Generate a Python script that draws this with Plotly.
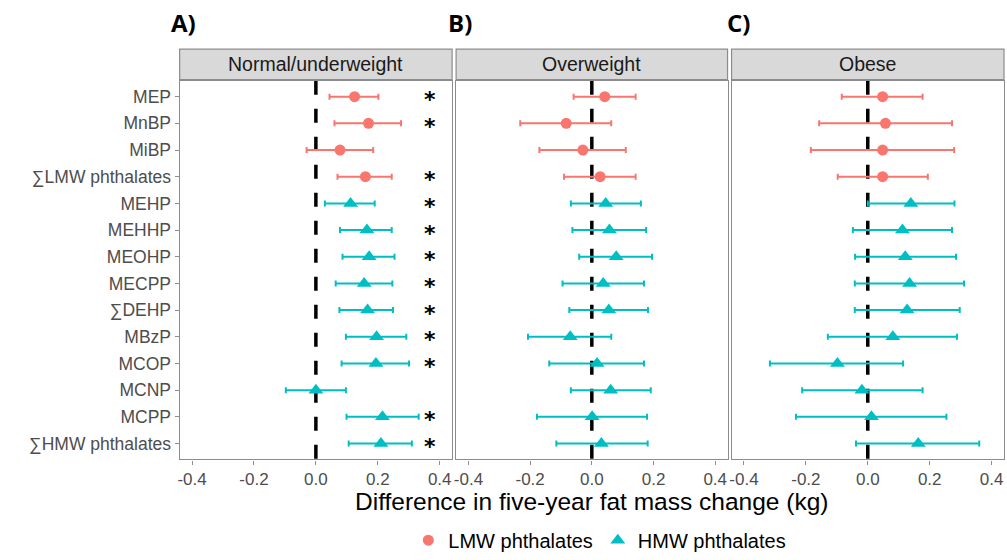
import plotly.graph_objects as go

phthalates = ["MEP", "MnBP", "MiBP", "∑LMW phthalates", "MEHP", "MEHHP", "MEOHP",
              "MECPP", "∑DEHP", "MBzP", "MCOP", "MCNP", "MCPP", "∑HMW phthalates"]
weight_group = ["LMW", "LMW", "LMW", "LMW", "HMW", "HMW", "HMW",
                "HMW", "HMW", "HMW", "HMW", "HMW", "HMW", "HMW"]
panels = ["Normal/underweight", "Overweight", "Obese"]
panel_tags = ["A)", "B)", "C)"]
x_ticks = [-0.4, -0.2, 0.0, 0.2, 0.4]

normal_est = [0.125, 0.170, 0.078, 0.160, 0.112, 0.165, 0.172, 0.156, 0.167, 0.196, 0.194, 0.000, 0.215, 0.210]
normal_lo = [0.044, 0.060, -0.030, 0.070, 0.029, 0.078, 0.086, 0.064, 0.076, 0.097, 0.083, -0.097, 0.099, 0.106]
normal_hi = [0.202, 0.275, 0.185, 0.245, 0.190, 0.245, 0.254, 0.247, 0.249, 0.292, 0.301, 0.097, 0.332, 0.310]

over_est = [0.042, -0.083, -0.029, 0.027, 0.045, 0.057, 0.079, 0.037, 0.055, -0.070, 0.017, 0.061, 0.001, 0.031]
over_lo = [-0.059, -0.232, -0.170, -0.090, -0.068, -0.063, -0.041, -0.095, -0.073, -0.207, -0.138, -0.068, -0.178, -0.115]
over_hi = [0.142, 0.063, 0.110, 0.142, 0.159, 0.176, 0.195, 0.169, 0.182, 0.063, 0.169, 0.191, 0.179, 0.181]

obese_est = [0.048, 0.057, 0.048, 0.048, 0.139, 0.112, 0.121, 0.135, 0.127, 0.081, -0.098, -0.019, 0.012, 0.163]
obese_lo = [-0.084, -0.157, -0.184, -0.097, 0.000, -0.048, -0.041, -0.042, -0.042, -0.129, -0.316, -0.212, -0.232, -0.038]
obese_hi = [0.177, 0.272, 0.279, 0.194, 0.280, 0.272, 0.285, 0.311, 0.297, 0.288, 0.114, 0.177, 0.254, 0.360]

normal_significant = [True, True, False, True, True, True, True, True, True, True, True, False, True, True]
star_x = 0.37

panel_data = [(normal_est, normal_lo, normal_hi),
              (over_est, over_lo, over_hi),
              (obese_est, obese_lo, obese_hi)]

group_style = {
    "LMW": dict(name="LMW phthalates", color="#F8766D", symbol="circle", size=11),
    "HMW": dict(name="HMW phthalates", color="#00BFC4", symbol="triangle-up", size=13),
}

W, H = 1007, 560
x_domains = [[178 / W, 451 / W], [455 / W, 727 / W], [731 / W, 1004 / W]]
tag_px = [167, 445, 724]
plot_top, plot_bottom = 82, 467
y_domain = [1 - plot_bottom / H, 1 - plot_top / H]
strip_top, strip_bottom = 50, 81

fig = go.Figure()

for p, (est, lo, hi) in enumerate(panel_data):
    xa = "x" if p == 0 else f"x{p + 1}"
    ya = "y" if p == 0 else f"y{p + 1}"
    for g, st in group_style.items():
        idx = [i for i, wg in enumerate(weight_group) if wg == g]
        fig.add_trace(go.Scatter(
            x=[est[i] for i in idx],
            y=[phthalates[i] for i in idx],
            mode="markers",
            name=st["name"],
            legendgroup=g,
            showlegend=(p == 0),
            marker=dict(color=st["color"], symbol=st["symbol"], size=st["size"]),
            error_x=dict(type="data", symmetric=False,
                         array=[hi[i] - est[i] for i in idx],
                         arrayminus=[est[i] - lo[i] for i in idx],
                         color=st["color"], thickness=2, width=3),
            xaxis=xa, yaxis=ya,
        ))
    # dashed zero line
    fig.add_shape(type="line", xref=xa, yref=f"{ya} domain", x0=0, x1=0, y0=1, y1=0,
                  line=dict(color="black", width=3.5, dash="14px,14px"), layer="below")
    # strip
    fig.add_shape(type="rect", xref="paper", yref="paper",
                  x0=x_domains[p][0], x1=x_domains[p][1],
                  y0=1 - strip_bottom / H, y1=1 - strip_top / H,
                  fillcolor="#D9D9D9", line=dict(color="#8C8C8C", width=1.2))
    fig.add_annotation(text=panels[p], xref="paper", yref="paper",
                       x=(x_domains[p][0] + x_domains[p][1]) / 2,
                       y=1 - (strip_top + strip_bottom) / 2 / H,
                       showarrow=False, font=dict(size=19.5, color="#1A1A1A"),
                       xanchor="center", yanchor="middle")
    fig.add_annotation(text=f"<b>{panel_tags[p]}</b>", xref="paper", yref="paper",
                       x=tag_px[p] / W, y=1 - 23 / H,
                       showarrow=False, font=dict(size=24, color="black", family="Open Sans"),
                       xanchor="left", yanchor="middle")

# significance stars
for i, sig in enumerate(normal_significant):
    if sig:
        fig.add_annotation(text="<b>*</b>", x=star_x, y=phthalates[i], xref="x", yref="y",
                           showarrow=False, font=dict(size=22, color="black", family="DejaVu Sans"),
                           yshift=-3)

axis_common = dict(range=[-0.44, 0.44], tickvals=x_ticks,
                   ticktext=[f"{v:.1f}" for v in x_ticks],
                   showgrid=False, zeroline=False, showline=True, mirror=True,
                   linecolor="#8C8C8C", linewidth=1.2, ticks="outside", ticklen=4,
                   tickcolor="#8C8C8C", tickfont=dict(size=17, color="#4D4D4D"))

layout_axes = {}
for p in range(3):
    k = "" if p == 0 else str(p + 1)
    layout_axes[f"xaxis{k}"] = dict(axis_common, domain=x_domains[p], anchor=f"y{k}")
    layout_axes[f"yaxis{k}"] = dict(
        domain=y_domain, anchor=f"x{k}", type="category",
        categoryorder="array", categoryarray=phthalates,
        range=[13.6, -0.6], showgrid=False, zeroline=False,
        showline=True, mirror=True, linecolor="#8C8C8C", linewidth=1.2,
        showticklabels=(p == 0), ticks="outside" if p == 0 else "",
        ticklen=4, tickcolor="#8C8C8C",
        tickfont=dict(size=17.5, color="#4D4D4D"))

fig.update_layout(**layout_axes)

fig.add_annotation(text="Difference in five-year fat mass change (kg)", xref="paper", yref="paper",
                   x=591 / W, y=1 - 510 / H, showarrow=False,
                   font=dict(size=24.5, color="black"), xanchor="center", yanchor="middle")

fig.update_layout(
    width=W, height=H,
    margin=dict(l=0, r=0, t=0, b=0),
    paper_bgcolor="white", plot_bgcolor="white",
    font=dict(family="Liberation Sans, Arial, sans-serif"),
    legend=dict(orientation="h", x=599 / W, xanchor="center", y=1 - 549 / H, yanchor="middle",
                font=dict(size=20, color="black"), itemwidth=30, tracegroupgap=0),
)

fig.write_html("out.html")
